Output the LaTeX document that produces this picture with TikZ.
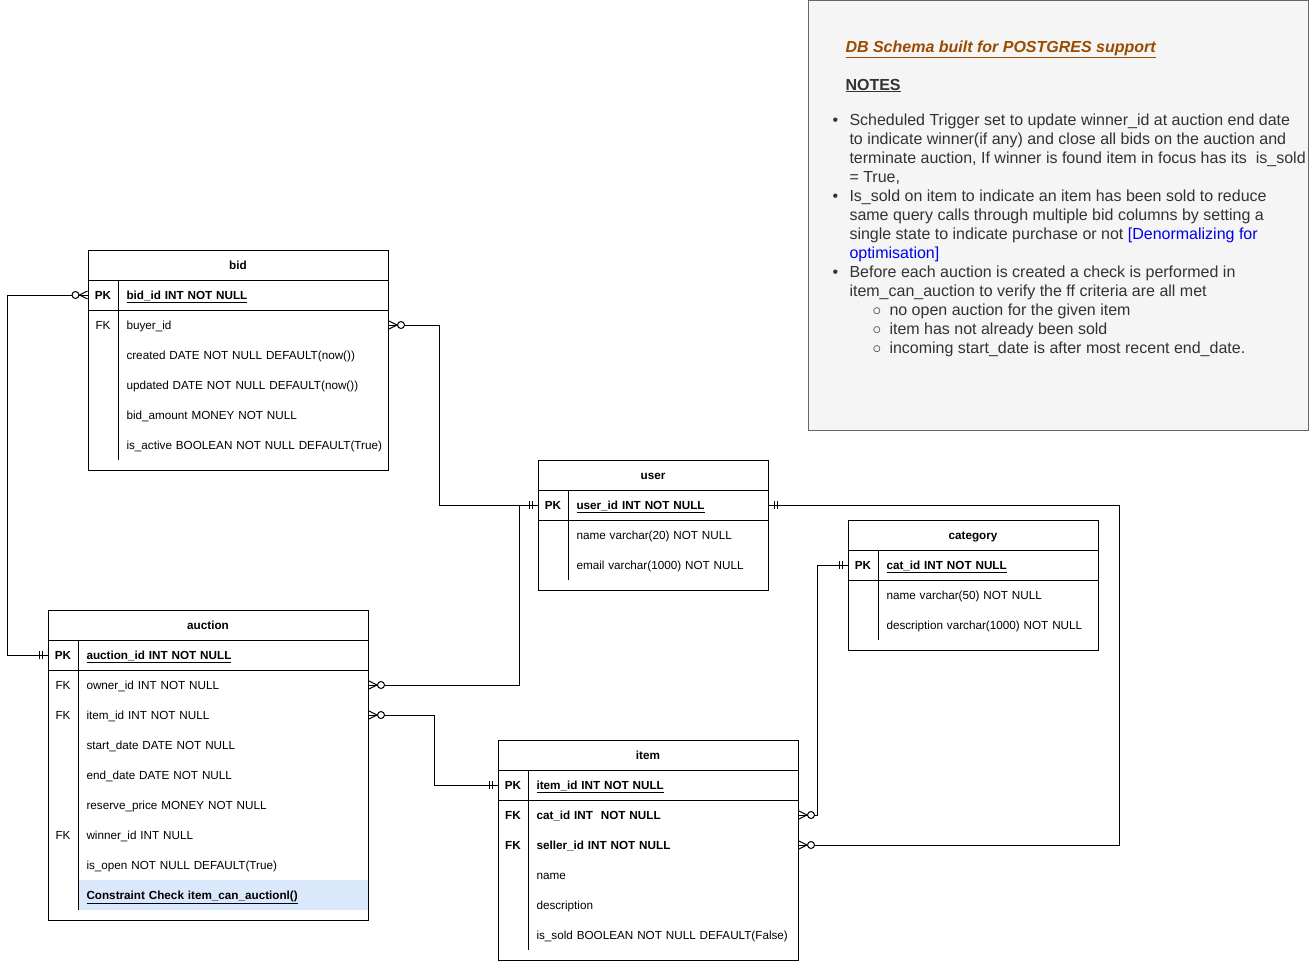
\documentclass[tikz,border=0pt]{standalone}
\usepackage{fontspec}
\setmainfont{Liberation Sans}
\definecolor{notefill}{HTML}{F5F5F5}
\definecolor{noteline}{HTML}{666666}
\definecolor{notetext}{HTML}{333333}
\definecolor{titlebrown}{HTML}{994C00}
\definecolor{linkblue}{HTML}{0000EE}
\definecolor{rowblue}{HTML}{DAE8FC}
\newcommand\tblfont{\fontsize{11.7}{14}\selectfont}
\newcommand\notefont{\fontsize{16}{19}\selectfont}
\tikzset{
  hdr/.style={font=\tblfont\bfseries,inner sep=0pt,text height=11pt,text depth=1.8pt},
  keycell/.style={minimum width=30pt,minimum height=30pt,inner sep=0pt,font=\tblfont,text height=11pt,text depth=1.8pt},
  fieldcell/.style={anchor=west,minimum height=30pt,text width=#1,align=left,inner xsep=8pt,inner ysep=0pt,font=\tblfont,text height=11pt,text depth=1.8pt},
  mone/.pic={\draw (5,-4) -- (5,4) (8,-4) -- (8,4);},
  zmany/.pic={\draw (0,-4) -- (8,0) -- (0,4); \draw[fill=white] (12,0) circle (3.5pt);},
}
\begin{document}
\begin{tikzpicture}[x=1pt,y=-1pt,line width=1pt]
    \useasboundingbox (0,0) rectangle (1309,961);
    % notes
    \draw[noteline,fill=notefill] (808,0) rectangle (1308,430);
    \node[anchor=base west,inner sep=0pt,titlebrown,font=\notefont\bfseries\itshape] (title) at (845,52) {\underline{DB Schema built for POSTGRES support}};
    \node[anchor=base west,inner sep=0pt,notetext,font=\notefont\bfseries] (notes) at (845,90) {\underline{NOTES}};
    \node[anchor=north west,inner sep=0pt,notetext,font=\notefont,align=left] (notelist) at (832,113) {%
      \makebox[17pt][l]{•}Scheduled Trigger set to update winner\_id at auction end date\\
      \hspace*{17pt}to indicate winner(if any) and close all bids on the auction and\\
      \hspace*{17pt}terminate auction, If winner is found item in focus has its\ \ is\_sold\\
      \hspace*{17pt}= True,\\
      \makebox[17pt][l]{•}Is\_sold on item to indicate an item has been sold to reduce\\
      \hspace*{17pt}same query calls through multiple bid columns by setting a\\
      \hspace*{17pt}single state to indicate purchase or not {\color{linkblue}[Denormalizing for}\\
      \hspace*{17pt}{\color{linkblue}optimisation]}\\
      \makebox[17pt][l]{•}Before each auction is created a check is performed in\\
      \hspace*{17pt}item\_can\_auction to verify the ff criteria are all met\\
      \hspace*{40pt}\makebox[17pt][l]{$\circ$}no open auction for the given item\\
      \hspace*{40pt}\makebox[17pt][l]{$\circ$}item has not already been sold\\
      \hspace*{40pt}\makebox[17pt][l]{$\circ$}incoming start\_date is after most recent end\_date.};
    % bid
    \draw (88,250) rectangle (388,470);
    \draw (88,280) -- (388,280) (88,310) -- (388,310) (118,280) -- (118,460);
    \node[hdr] (bid) at (238,265) {bid};
    \node[keycell,font=\tblfont\bfseries] (bid-k0) at (103,295) {PK};
    \node[fieldcell=254pt] (bid-f0) at (118,295) {\textbf{\underline{bid\_id INT NOT NULL}}};
    \foreach \k/\t [count=\i] in {FK/{buyer\_id},/{created DATE NOT NULL DEFAULT(now())},/{updated DATE NOT NULL DEFAULT(now())},/{bid\_amount MONEY NOT NULL},/{is\_active BOOLEAN NOT NULL DEFAULT(True)}}{
      \node[keycell] (bid-k\i) at (103,295+30*\i) {\k};
      \node[fieldcell=254pt] (bid-f\i) at (118,295+30*\i) {\mbox{\t}};
    }
    % user
    \draw (538,460) rectangle (768,590);
    \draw (538,490) -- (768,490) (538,520) -- (768,520) (568,490) -- (568,580);
    \node[hdr] (usr) at (653,475) {user};
    \node[keycell,font=\tblfont\bfseries] (usr-k0) at (553,505) {PK};
    \node[fieldcell=184pt] (usr-f0) at (568,505) {\textbf{\underline{user\_id INT NOT NULL}}};
    \foreach \t [count=\i] in {{name varchar(20) NOT NULL},{email varchar(1000) NOT NULL}}{
      \node[fieldcell=184pt] (usr-f\i) at (568,505+30*\i) {\mbox{\t}};
    }
    % category
    \draw (848,520) rectangle (1098,650);
    \draw (848,550) -- (1098,550) (848,580) -- (1098,580) (878,550) -- (878,640);
    \node[hdr] (cat) at (973,535) {category};
    \node[keycell,font=\tblfont\bfseries] (cat-k0) at (863,565) {PK};
    \node[fieldcell=204pt] (cat-f0) at (878,565) {\textbf{\underline{cat\_id INT NOT NULL}}};
    \foreach \t [count=\i] in {{name varchar(50) NOT NULL},{description varchar(1000) NOT NULL}}{
      \node[fieldcell=204pt] (cat-f\i) at (878,565+30*\i) {\mbox{\t}};
    }
    % auction
    \fill[rowblue] (78,880) rectangle (368,910);
    \draw (48,610) rectangle (368,920);
    \draw (48,640) -- (368,640) (48,670) -- (368,670) (78,640) -- (78,910);
    \node[hdr] (auc) at (208,625) {auction};
    \node[keycell,font=\tblfont\bfseries] (auc-k0) at (63,655) {PK};
    \node[fieldcell=274pt] (auc-f0) at (78,655) {\textbf{\underline{auction\_id INT NOT NULL}}};
    \foreach \k/\t [count=\i] in {FK/{owner\_id INT NOT NULL},FK/{item\_id INT NOT NULL},/{start\_date DATE NOT NULL},/{end\_date DATE NOT NULL},/{reserve\_price MONEY NOT NULL},FK/{winner\_id INT NULL},/{is\_open NOT NULL DEFAULT(True)},/{\textbf{\underline{Constraint Check item\_can\_auctionl()}}}}{
      \node[keycell] (auc-k\i) at (63,655+30*\i) {\k};
      \node[fieldcell=274pt] (auc-f\i) at (78,655+30*\i) {\mbox{\t}};
    }
    % item
    \draw (498,740) rectangle (798,960);
    \draw (498,770) -- (798,770) (498,800) -- (798,800) (528,770) -- (528,950);
    \node[hdr] (itm) at (648,755) {item};
    \node[keycell,font=\tblfont\bfseries] (itm-k0) at (513,785) {PK};
    \node[fieldcell=254pt] (itm-f0) at (528,785) {\textbf{\underline{item\_id INT NOT NULL}}};
    \foreach \k/\t [count=\i] in {{\textbf{FK}}/{\textbf{cat\_id INT\ \ NOT NULL}},{\textbf{FK}}/{\textbf{seller\_id INT NOT NULL}},/{name},/{description},/{is\_sold BOOLEAN NOT NULL DEFAULT(False)}}{
      \node[keycell] (itm-k\i) at (513,785+30*\i) {\k};
      \node[fieldcell=254pt] (itm-f\i) at (528,785+30*\i) {\mbox{\t}};
    }
    % relations
    \draw (bid-k0.west) -- ++(-80,0) |- (auc-k0.west);
    \draw (bid-f1.east) -- ++(50,0) |- (usr-k0.west);
    \draw (auc-f1.east) -- ++(150,0) |- (usr-k0.west);
    \draw (usr-f0.east) -- ++(350,0) |- (itm-f2.east);
    \draw (auc-f2.east) -- ++(65,0) |- (itm-k0.west);
    \draw (cat-k0.west) -- ++(-30,0) |- (itm-f1.east);
    \pic[rotate=180] at (bid-k0.west) {zmany};
    \pic[rotate=180] at (auc-k0.west) {mone};
    \pic at (bid-f1.east) {zmany};
    \pic[rotate=180] at (usr-k0.west) {mone};
    \pic at (auc-f1.east) {zmany};
    \pic at (usr-f0.east) {mone};
    \pic at (itm-f2.east) {zmany};
    \pic at (auc-f2.east) {zmany};
    \pic[rotate=180] at (itm-k0.west) {mone};
    \pic[rotate=180] at (cat-k0.west) {mone};
    \pic at (itm-f1.east) {zmany};
\end{tikzpicture}
\end{document}
